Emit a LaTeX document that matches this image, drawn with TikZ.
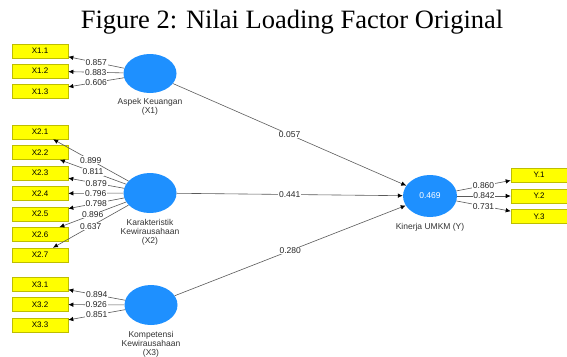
\documentclass[tikz,border=0pt]{standalone}
\usepackage{fontspec}
\setmainfont{Liberation Serif}
\setsansfont{Liberation Sans}
\usetikzlibrary{shapes.geometric,arrows.meta}
\definecolor{latblue}{RGB}{30,144,255}
\definecolor{boxfill}{RGB}{255,255,0}
\definecolor{boxedge}{RGB}{190,190,0}
\definecolor{linegray}{RGB}{90,90,90}
\tikzset{
  ind/.style={draw=boxedge, fill=boxfill, line width=0.6pt, minimum width=56pt,
    minimum height=14pt, inner sep=0pt, font=\sffamily\fontsize{8}{8}\selectfont},
  lat/.style={ellipse, fill=latblue, minimum width=53pt, minimum height=39pt,
    inner sep=0pt, text=white, font=\sffamily\fontsize{8.5}{8.5}\selectfont},
  latname/.style={align=center, text=black!80, inner sep=0pt,
    font=\sffamily\fontsize{8.5}{9}\selectfont},
  arr/.style={draw=linegray, line width=0.6pt, -{Latex[black,length=5pt,width=4.5pt]}},
  val/.style={fill=white, inner sep=0.7pt, text=black!85,
    font=\sffamily\fontsize{8.5}{8.5}\selectfont}
}
\begin{document}
\begin{tikzpicture}[x=1pt,y=-1pt]
\useasboundingbox (0,0) rectangle (567,356);
\fill[white] (0,0) rectangle (567,356);

% title
\node[anchor=base, font=\fontsize{26.5}{26.5}\selectfont, inner sep=0pt] (title) at (292,28)
  {Figure 2: Nilai Loading Factor Original};

% latent variables
\node[lat] (x1) at (150,73.5) {};
\node[lat, minimum height=40pt] (x2) at (150,193) {};
\node[lat, minimum height=40pt] (x3) at (151,305) {};
\node[lat, minimum width=54pt, minimum height=42pt] (y) at (430,196) {0.469};

\node[latname] (x1n) at (150,106.5) {Aspek Keuangan\\(X1)};
\node[latname] (x2n) at (150,232) {Karakteristik\\Kewirausahaan\\(X2)};
\node[latname] (x3n) at (151,344) {Kompetensi\\Kewirausahaan\\(X3)};
\node[latname] (yn) at (430,227) {Kinerja UMKM (Y)};

% indicators
\node[ind] (i11) at (40,51) {X1.1};
\node[ind] (i12) at (40,71) {X1.2};
\node[ind] (i13) at (40,91.5) {X1.3};

\node[ind] (i21) at (40,132) {X2.1};
\node[ind] (i22) at (40,152.5) {X2.2};
\node[ind] (i23) at (40,173) {X2.3};
\node[ind] (i24) at (40,193.5) {X2.4};
\node[ind] (i25) at (40,214) {X2.5};
\node[ind] (i26) at (40,234.5) {X2.6};
\node[ind] (i27) at (40,255) {X2.7};

\node[ind] (i31) at (40,284.5) {X3.1};
\node[ind] (i32) at (40,304.5) {X3.2};
\node[ind] (i33) at (40,325) {X3.3};

\node[ind] (iy1) at (539,175) {Y.1};
\node[ind] (iy2) at (539,196) {Y.2};
\node[ind] (iy3) at (539,216.5) {Y.3};

% outer loadings
\draw[arr] (x1) -- node[val] {0.857} (i11);
\draw[arr] (x1) -- node[val] {0.883} (i12);
\draw[arr] (x1) -- node[val] {0.606} (i13);

\draw[arr] (x2) -- node[val] {0.899} (i21);
\draw[arr] (x2) -- node[val] {0.811} (i22);
\draw[arr] (x2) -- node[val] {0.879} (i23);
\draw[arr] (x2) -- node[val] {0.796} (i24);
\draw[arr] (x2) -- node[val] {0.798} (i25);
\draw[arr] (x2) -- node[val] {0.896} (i26);
\draw[arr] (x2) -- node[val] {0.637} (i27);

\draw[arr] (x3) -- node[val] {0.894} (i31);
\draw[arr] (x3) -- node[val] {0.926} (i32);
\draw[arr] (x3) -- node[val] {0.851} (i33);

\draw[arr] (y) -- node[val] {0.860} (iy1);
\draw[arr] (y) -- node[val] {0.842} (iy2);
\draw[arr] (y) -- node[val] {0.731} (iy3);

% path coefficients
\draw[arr] (x1) -- node[val] {0.057} (y);
\draw[arr] (x2) -- node[val] {0.441} (y);
\draw[arr] (x3) -- node[val] {0.280} (y);
\end{tikzpicture}
\end{document}
